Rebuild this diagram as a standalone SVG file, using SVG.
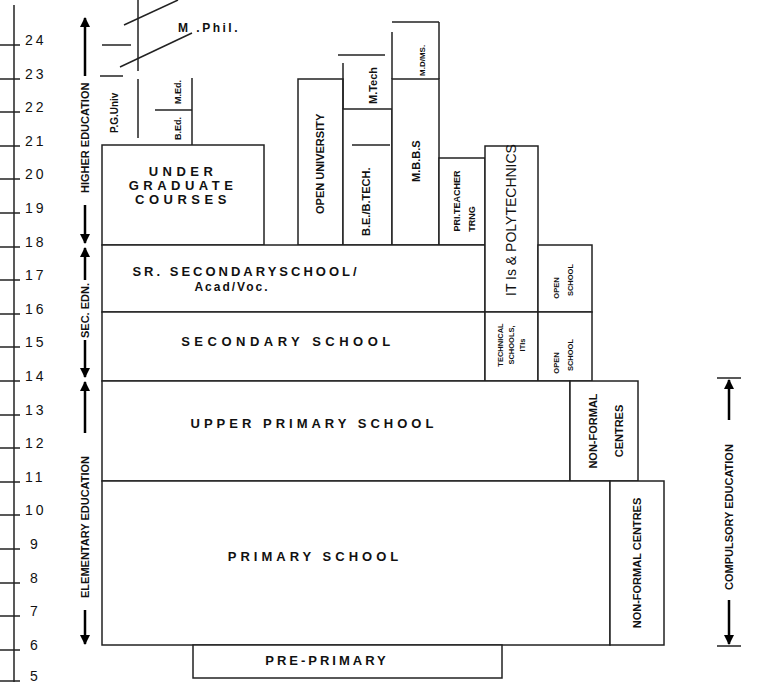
<svg xmlns="http://www.w3.org/2000/svg" width="773" height="682" viewBox="0 0 773 682">
<defs>
<marker id="ah" viewBox="0 0 10 10" refX="9" refY="5" markerWidth="4" markerHeight="4" orient="auto"><path d="M0,0 L10,5 L0,10 z" fill="#000"/></marker>
</defs>
<style>
.b{fill:#fff;stroke:#222;stroke-width:1.5}
.l{stroke:#222;stroke-width:1.5;fill:none}
.a{stroke:#000;stroke-width:2.5;fill:none;marker-end:url(#ah)}
.t{font-family:"Liberation Sans",Arial,sans-serif;font-weight:bold;fill:#111}
.s{font-family:"Liberation Sans",Arial,sans-serif;fill:#111;font-size:14px}
</style>
<rect width="773" height="682" fill="#fff"/>
<g id="axis">
<line class="l" x1="14" y1="5" x2="14" y2="682"/>
<g class="l">
<line x1="0" y1="45" x2="20" y2="45"/><line x1="0" y1="79" x2="20" y2="79"/><line x1="0" y1="112" x2="20" y2="112"/><line x1="0" y1="146" x2="20" y2="146"/><line x1="0" y1="179" x2="20" y2="179"/><line x1="0" y1="213" x2="20" y2="213"/><line x1="0" y1="247" x2="20" y2="247"/><line x1="0" y1="280" x2="20" y2="280"/><line x1="0" y1="314" x2="20" y2="314"/><line x1="0" y1="347" x2="20" y2="347"/><line x1="0" y1="381" x2="20" y2="381"/><line x1="0" y1="415" x2="20" y2="415"/><line x1="0" y1="448" x2="20" y2="448"/><line x1="0" y1="482" x2="20" y2="482"/><line x1="0" y1="515" x2="20" y2="515"/><line x1="0" y1="549" x2="20" y2="549"/><line x1="0" y1="583" x2="20" y2="583"/><line x1="0" y1="616" x2="20" y2="616"/><line x1="0" y1="650" x2="20" y2="650"/><line x1="0" y1="681" x2="20" y2="681"/>
</g>
<g class="s" letter-spacing="3">
<text x="25" y="45">24</text><text x="25" y="79">23</text><text x="25" y="112">22</text><text x="25" y="146">21</text><text x="25" y="179">20</text><text x="25" y="213">19</text><text x="25" y="247">18</text><text x="25" y="280">17</text><text x="25" y="314">16</text><text x="25" y="347">15</text><text x="25" y="381">14</text><text x="25" y="415">13</text><text x="25" y="448">12</text><text x="25" y="482">11</text><text x="25" y="515">10</text><text x="30" y="549">9</text><text x="30" y="583">8</text><text x="30" y="616">7</text><text x="30" y="650">6</text><text x="30" y="681">5</text>
</g>
</g>
<g id="stage-arrows">
<path class="a" d="M85,76 V18"/><path class="a" d="M85,205 V243"/>
<text class="t" font-size="11" transform="translate(89,193) rotate(-90)">HIGHER EDUCATION</text>
<path class="a" d="M85,280 V248"/><path class="a" d="M85,340 V377"/>
<text class="t" font-size="11" transform="translate(89,338) rotate(-90)">SEC. EDN.</text>
<path class="a" d="M85,433 V382"/><path class="a" d="M85,610 V644"/>
<text class="t" font-size="11" transform="translate(89,598) rotate(-90)">ELEMENTARY EDUCATION</text>
<line class="l" x1="717" y1="378" x2="741" y2="378"/><line class="l" x1="717" y1="646" x2="741" y2="646"/>
<path class="a" d="M729,420 V380"/><path class="a" d="M729,600 V644"/>
<text class="t" font-size="11" transform="translate(733,590) rotate(-90)">COMPULSORY EDUCATION</text>
</g>
<g id="higher-lines">
<line class="l" x1="138" y1="0" x2="138" y2="71"/>
<line class="l" x1="138" y1="79" x2="138" y2="138"/>
<line class="l" x1="102" y1="45" x2="131" y2="45"/>
<line class="l" x1="100" y1="76" x2="123" y2="76"/>
<line class="l" x1="124" y1="25" x2="178" y2="0"/>
<line class="l" x1="120" y1="67" x2="192" y2="33"/>
<line class="l" x1="192" y1="78" x2="192" y2="145"/>
<line class="l" x1="155" y1="110" x2="192" y2="110"/>
<text class="t" font-size="12" x="178" y="32" letter-spacing="2.5">M .Phil.</text>
<text class="t" font-size="10" transform="translate(118,133) rotate(-90)">P.G.Univ</text>
<text class="t" font-size="9" transform="translate(181,140) rotate(-90)">B.Ed.</text>
<text class="t" font-size="9" transform="translate(181,104) rotate(-90)">M.Ed.</text>
</g>
<g id="ug"><rect class="b" x="102" y="145" width="162" height="100"/>
<text class="t" font-size="13" text-anchor="middle" letter-spacing="4.5"><tspan x="183" y="176">UNDER</tspan><tspan x="183" y="190">GRADUATE</tspan><tspan x="183" y="204">COURSES</tspan></text></g>
<g id="open-univ"><rect class="b" x="298" y="79" width="45" height="166"/>
<text class="t" font-size="11" transform="translate(324,214) rotate(-90)">OPEN UNIVERSITY</text></g>
<g id="be"><rect class="b" x="343" y="109" width="49" height="136"/>
<line class="l" x1="352" y1="145" x2="390" y2="145"/>
<text class="t" font-size="11" transform="translate(370,236) rotate(-90)">B.E./B.TECH.</text></g>
<g id="mtech"><line class="l" x1="343" y1="63" x2="343" y2="109"/><line class="l" x1="338" y1="55" x2="385" y2="55"/>
<text class="t" font-size="11" transform="translate(377,104) rotate(-90)">M.Tech</text></g>
<g id="mbbs"><rect class="b" x="392" y="79" width="47" height="166"/>
<text class="t" font-size="11" transform="translate(420,182) rotate(-90)">M.B.B.S</text></g>
<g id="mdms"><line class="l" x1="392" y1="32" x2="392" y2="79"/><line class="l" x1="392" y1="22" x2="439" y2="22"/><line class="l" x1="439" y1="22" x2="439" y2="79"/>
<text class="t" font-size="8" transform="translate(425,76) rotate(-90)">M.D/MS.</text></g>
<g id="pri"><rect class="b" x="439" y="158" width="46" height="87"/>
<text class="t" font-size="9" text-anchor="middle" transform="translate(460,201) rotate(-90)"><tspan x="0" y="0">PRI.TEACHER</tspan><tspan x="-18" y="15">TRNG</tspan></text></g>
<g id="srsec"><rect class="b" x="102" y="245" width="383" height="67"/>
<text class="t" font-size="13" text-anchor="middle" letter-spacing="3"><tspan x="246" y="276">SR. SECONDARYSCHOOL/</tspan></text>
<text class="t" font-size="12" text-anchor="middle" letter-spacing="2" x="232" y="291">Acad/Voc.</text></g>
<g id="sec"><rect class="b" x="102" y="312" width="383" height="69"/>
<text class="t" font-size="13" letter-spacing="4.5" text-anchor="middle" x="288" y="346">SECONDARY SCHOOL</text></g>
<g id="iti"><rect class="b" x="485" y="146" width="53" height="166"/>
<text class="s" font-size="12" transform="translate(516,296) rotate(-90)">IT Is &amp; POLYTECHNICS</text></g>
<g id="tech"><rect class="b" x="485" y="312" width="53" height="69"/>
<text class="t" font-size="7.5" text-anchor="middle" transform="translate(512,345) rotate(-90)"><tspan x="0" y="-9">TECHNICAL</tspan><tspan x="0" y="2">SCHOOLS,</tspan><tspan x="0" y="13">ITIs</tspan></text></g>
<g id="open1"><rect class="b" x="538" y="245" width="54" height="67"/>
<text class="t" font-size="7.5" text-anchor="middle" transform="translate(562,280) rotate(-90)"><tspan x="-8" y="-3">OPEN</tspan><tspan x="0" y="11">SCHOOL</tspan></text></g>
<g id="open2"><rect class="b" x="538" y="312" width="54" height="69"/>
<text class="t" font-size="7.5" text-anchor="middle" transform="translate(562,355) rotate(-90)"><tspan x="-8" y="-3">OPEN</tspan><tspan x="0" y="11">SCHOOL</tspan></text></g>
<g id="upper"><rect class="b" x="102" y="381" width="468" height="100"/>
<text class="t" font-size="13" letter-spacing="4" text-anchor="middle" x="314" y="428">UPPER PRIMARY SCHOOL</text></g>
<g id="nfc1"><rect class="b" x="570" y="381" width="68" height="100"/>
<text class="t" font-size="11" text-anchor="middle" transform="translate(604,431) rotate(-90)"><tspan x="0" y="-7">NON-FORMAL</tspan><tspan x="0" y="19">CENTRES</tspan></text></g>
<g id="primary"><rect class="b" x="102" y="481" width="508" height="164"/>
<text class="t" font-size="13" letter-spacing="4" text-anchor="middle" x="315" y="561">PRIMARY SCHOOL</text></g>
<g id="nfc2"><rect class="b" x="610" y="481" width="54" height="164"/>
<text class="t" font-size="11" text-anchor="middle" transform="translate(641,563) rotate(-90)">NON-FORMAL CENTRES</text></g>
<g id="pre"><rect class="b" x="193" y="645" width="309" height="33"/>
<text class="t" font-size="13" letter-spacing="3" text-anchor="middle" x="327" y="665">PRE-PRIMARY</text></g>
<g id="connectors"/>
</svg>
